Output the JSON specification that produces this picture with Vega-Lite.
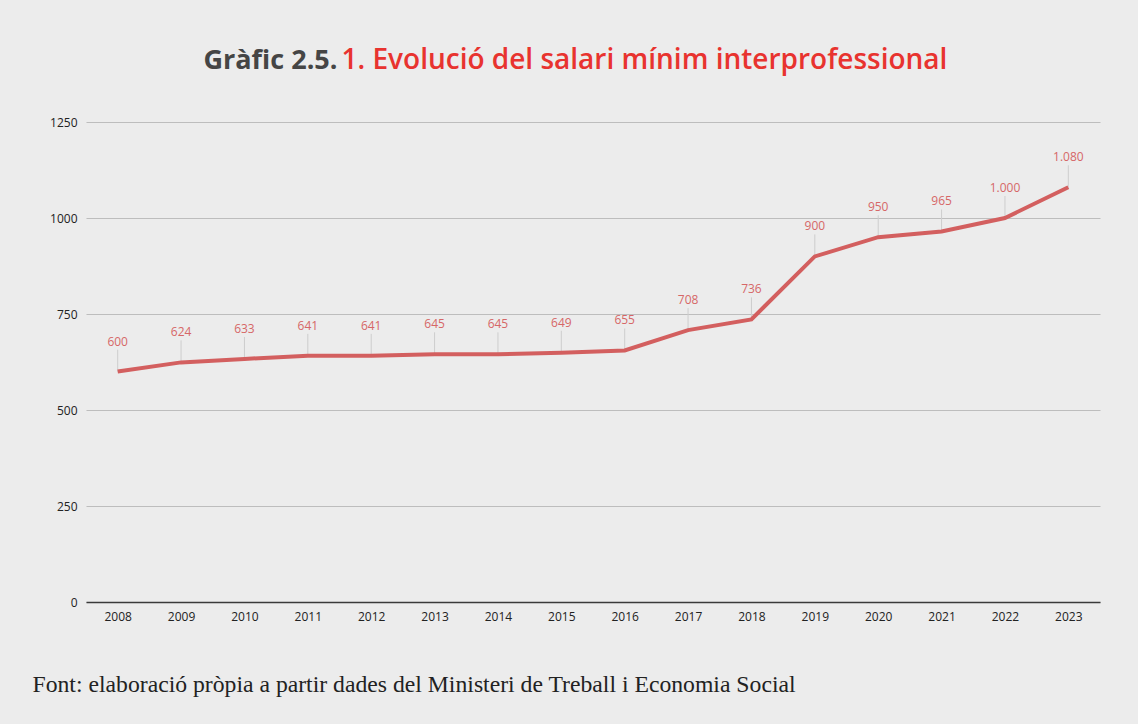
{
  "$schema": "https://vega.github.io/schema/vega-lite/v6.json",
  "width": 1014,
  "height": 480,
  "autosize": {"type": "none"},
  "padding": {"left": 86, "top": 122, "right": 38, "bottom": 122},
  "background": "#ececec",
  "config": {
    "view": {"stroke": null},
    "locale": {"number": {"decimal": ",", "thousands": ".", "grouping": [3], "currency": ["", " €"]}}
  },
  "data": {
    "values": [
      {"any": "2008", "salari": 600},
      {"any": "2009", "salari": 624},
      {"any": "2010", "salari": 633},
      {"any": "2011", "salari": 641},
      {"any": "2012", "salari": 641},
      {"any": "2013", "salari": 645},
      {"any": "2014", "salari": 645},
      {"any": "2015", "salari": 649},
      {"any": "2016", "salari": 655},
      {"any": "2017", "salari": 708},
      {"any": "2018", "salari": 736},
      {"any": "2019", "salari": 900},
      {"any": "2020", "salari": 950},
      {"any": "2021", "salari": 965},
      {"any": "2022", "salari": 1000},
      {"any": "2023", "salari": 1080}
    ]
  },
  "encoding": {
    "y": {
      "field": "salari",
      "type": "quantitative",
      "scale": {"domain": [0, 1250], "nice": false, "zero": true},
      "axis": {
        "values": [0, 250, 500, 750, 1000, 1250],
        "format": "d",
        "domain": false,
        "ticks": false,
        "grid": true,
        "gridColor": "#bdbdbd",
        "gridWidth": 1,
        "labelFont": "Open Sans",
        "labelFontSize": 12,
        "labelColor": "#222222",
        "labelPadding": 9,
        "title": "Gràfic 2.5.",
        "titleAngle": 0,
        "titleX": 117,
        "titleY": -54,
        "titleAlign": "left",
        "titleBaseline": "alphabetic",
        "titleFont": "Open Sans",
        "titleFontSize": 27,
        "titleFontWeight": "bold",
        "titleColor": "#454545"
      }
    }
  },
  "layer": [
    {
      "mark": {"type": "rule", "color": "#cdcdcd", "strokeWidth": 1, "y2Offset": -22},
      "encoding": {
        "x": {
          "field": "any",
          "type": "ordinal",
          "scale": {"type": "point", "padding": 0.5},
          "axis": {
            "orient": "bottom",
            "labelAngle": 0,
            "ticks": false,
            "grid": false,
            "domain": true,
            "domainColor": "#3a3a3a",
            "domainWidth": 1.5,
            "labelFont": "Open Sans",
            "labelFontSize": 12,
            "labelColor": "#222222",
            "labelPadding": 9,
            "title": "Font: elaboració pròpia a partir dades del Ministeri de Treball i Economia Social",
            "titleX": -54,
            "titleY": 89,
            "titleAlign": "left",
            "titleBaseline": "alphabetic",
            "titleFont": "Liberation Serif",
            "titleFontSize": 23.7,
            "titleFontWeight": "normal",
            "titleColor": "#222222"
          }
        },
        "y2": {"field": "salari"}
      }
    },
    {
      "mark": {"type": "line", "color": "#d35f5f", "strokeWidth": 4},
      "encoding": {
        "x": {"field": "any", "type": "ordinal", "axis": null}
      }
    },
    {
      "mark": {"type": "text", "color": "#d66767", "font": "Open Sans", "fontSize": 12, "letterSpacing": 0.4, "dy": -30, "baseline": "middle"},
      "encoding": {
        "x": {
          "field": "any",
          "type": "ordinal",
          "axis": {
            "orient": "top",
            "labels": false,
            "ticks": false,
            "domain": false,
            "grid": false,
            "title": "1. Evolució del salari mínim interprofessional",
            "titleX": 255,
            "titleY": -54,
            "titleAlign": "left",
            "titleBaseline": "alphabetic",
            "titleFont": "Open Sans",
            "titleFontSize": 28,
            "titleFontWeight": 600,
            "titleColor": "#e8332f"
          }
        },
        "text": {"field": "salari", "type": "quantitative", "format": ",d"}
      }
    }
  ],
  "resolve": {"axis": {"x": "independent"}}
}
